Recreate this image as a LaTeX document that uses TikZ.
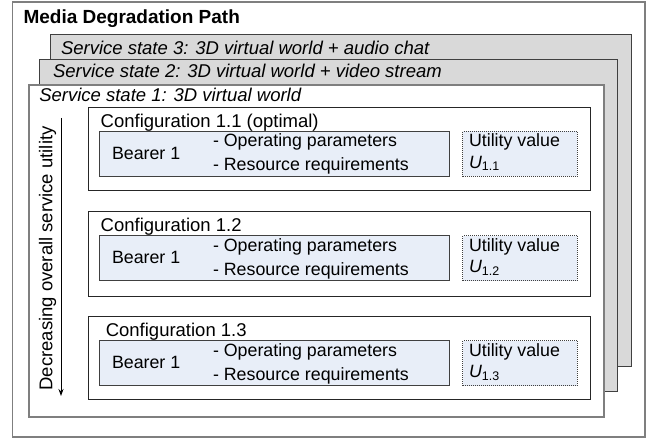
\documentclass[tikz,border=0pt]{standalone}
\usepackage{fontspec}
\setmainfont{Liberation Sans}
\usetikzlibrary{arrows.meta}
\definecolor{outerc}{HTML}{7F7F7F}
\definecolor{ssfill}{HTML}{D9D9D9}
\definecolor{ssline}{HTML}{404040}
\definecolor{bfill}{HTML}{E8EEF8}
\definecolor{bline}{HTML}{404040}
\tikzset{
  boxbase/.style={anchor=north west, inner sep=0pt, outer sep=0pt},
  outerbox/.style={boxbase, draw=outerc, line width=1.2pt, fill=white},
  ssbox/.style={boxbase, draw=ssline, line width=1pt, fill=ssfill},
  ssonebox/.style={boxbase, draw=outerc, line width=1.2pt, fill=white},
  confbox/.style={boxbase, draw=black!85, line width=1pt, fill=white},
  bearerbox/.style={boxbase, draw=bline, line width=0.9pt, fill=bfill},
  utilbox/.style={boxbase, draw=black!75, line width=1pt, densely dotted, fill=bfill},
  txt/.style={anchor=base west, inner sep=0pt, outer sep=0pt},
  titletxt/.style={txt, font=\fontsize{19}{22}\selectfont\bfseries},
  sstxt/.style={txt, font=\fontsize{18.5}{22}\selectfont\itshape},
  conftxt/.style={txt, font=\fontsize{18.5}{22}\selectfont},
  smalltxt/.style={txt, font=\fontsize{17.8}{21}\selectfont}
}
\begin{document}
\begin{tikzpicture}[x=1pt,y=-1pt]
\useasboundingbox (0,0) rectangle (654,441);
% outer frame
\node[outerbox, minimum width=632.3pt, minimum height=435pt] (outer) at (12.7,2) {};
\node[titletxt] (title) at (23.5,24) {Media Degradation Path};
% service states
\node[ssbox, minimum width=581pt, minimum height=331pt] (ss3) at (50,35) {};
\node[sstxt] (ss3t) at (61,55) {Service state 3: 3D virtual world + audio chat};
\node[ssbox, minimum width=578.7pt, minimum height=331.7pt] (ss2) at (39,60) {};
\node[sstxt] (ss2t) at (53,78) {Service state 2: 3D virtual world + video stream};
\node[ssonebox, minimum width=575pt, minimum height=332pt] (ss1) at (29,85) {};
\node[sstxt] (ss1t) at (39.3,101.5) {Service state 1: 3D virtual world};
% utility arrow
\coordinate (arrtop) at (61,118);
\coordinate (arrbot) at (61,396);
\draw[line width=1pt, -{Stealth[length=7pt,width=5pt]}] (arrtop) -- (arrbot);
\node[conftxt, anchor=center, rotate=90] (dec) at (47.5,258.5) {Decreasing overall service utility};
% configurations
\foreach \n/\d/\cx/\cw/\ch in {1/0/100.7/502/83.4, 2/104.4/100.7/502/84.3, 3/209.4/105.8/502.7/82.3}{
  \node[confbox, minimum width=\cw pt, minimum height=\ch pt] (conf\n) at (88,107.3+\d) {};
  \node[conftxt] (conf\n t) at (\cx,127.3+\d) {Configuration 1.\n\ifnum\n=1\relax\ (optimal)\fi};
  \node[bearerbox, minimum width=350.3pt, minimum height=44.6pt] (bearer\n) at (99,131.5+\d) {};
  \node[smalltxt] (bearer\n t) at (112,159.3+\d) {Bearer 1};
  \node[smalltxt] (op\n) at (213,146.7+\d) {- Operating parameters};
  \node[smalltxt] (res\n) at (213,170.7+\d) {- Resource requirements};
  \node[utilbox, minimum width=114.6pt, minimum height=44.6pt] (util\n) at (462.7,131.5+\d) {};
  \node[smalltxt] (util\n t) at (469,146.7+\d) {Utility value};
  \node[smalltxt] (u\n) at (469,168.3+\d) {\textit{U}\textsubscript{1.\n}};
}
\end{tikzpicture}
\end{document}
